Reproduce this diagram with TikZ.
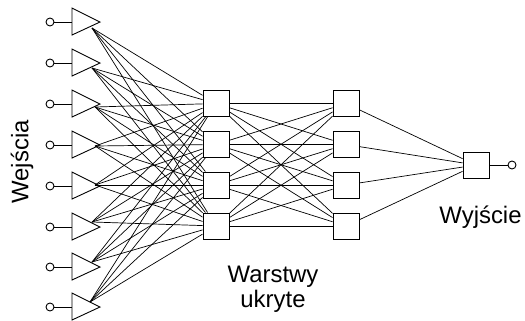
\documentclass[tikz,border=0pt]{standalone}
\usepackage{fontspec}
\setmainfont{Liberation Sans}
\begin{document}
\begin{tikzpicture}[x=1bp,y=-1bp,
  conn/.style={line width=0.7bp},
  neuron/.style={draw,fill=white,minimum size=26bp,inner sep=0pt,line width=0.9bp},
  term/.style={circle,draw,fill=white,minimum size=8bp,inner sep=0pt,line width=0.9bp},
  tri/.style={line width=0.9bp,line join=miter},
  lbl/.style={font=\fontsize{24}{25}\selectfont,align=center,inner sep=0pt}]
\useasboundingbox (0,0) rectangle (525,320);
% input units
\foreach \i/\yy/\cy/\cx in {1/22/28/92, 2/63/68/92, 3/104/107/95, 4/145/146/95, 5/186/185/95, 6/227/222/92, 7/267/262/92, 8/307/302/90} {
  \node[term] (in\i) at (50,\yy) {};
  \coordinate (tl\i) at (72,\yy);
  \draw[tri] (72,\yy-14) -- (72,\yy+13) -- (100,\yy) -- cycle;
  \coordinate (out\i) at (\cx,\cy);
  \draw[conn] (in\i) -- (tl\i);
}
% hidden layers
\foreach \j/\yy in {1/103.5,2/144.5,3/185,4/226} {
  \node[neuron] (ha\j) at (216,\yy) {};
  \node[neuron] (hb\j) at (346,\yy) {};
}
% output
\node[neuron] (o) at (476,165) {};
\node[term] (oc) at (512,165) {};
\draw[conn] (o) -- (oc);
% connections
\foreach \i in {1,...,8} {
  \foreach \j in {1,...,4} {
    \draw[conn] (out\i) -- (ha\j);
  }
}
\foreach \i in {1,...,4} {
  \foreach \j in {1,...,4} {
    \draw[conn] (ha\i) -- (hb\j);
  }
  \draw[conn] (hb\i) -- (o);
}
% labels
\node[lbl,rotate=90] (lin) at (22,162) {Wejścia};
\node[lbl] (lhid) at (273,289) {Warstwy\\ukryte};
\node[lbl,anchor=base] (lout) at (480.5,223) {Wyjście};
\end{tikzpicture}
\end{document}
